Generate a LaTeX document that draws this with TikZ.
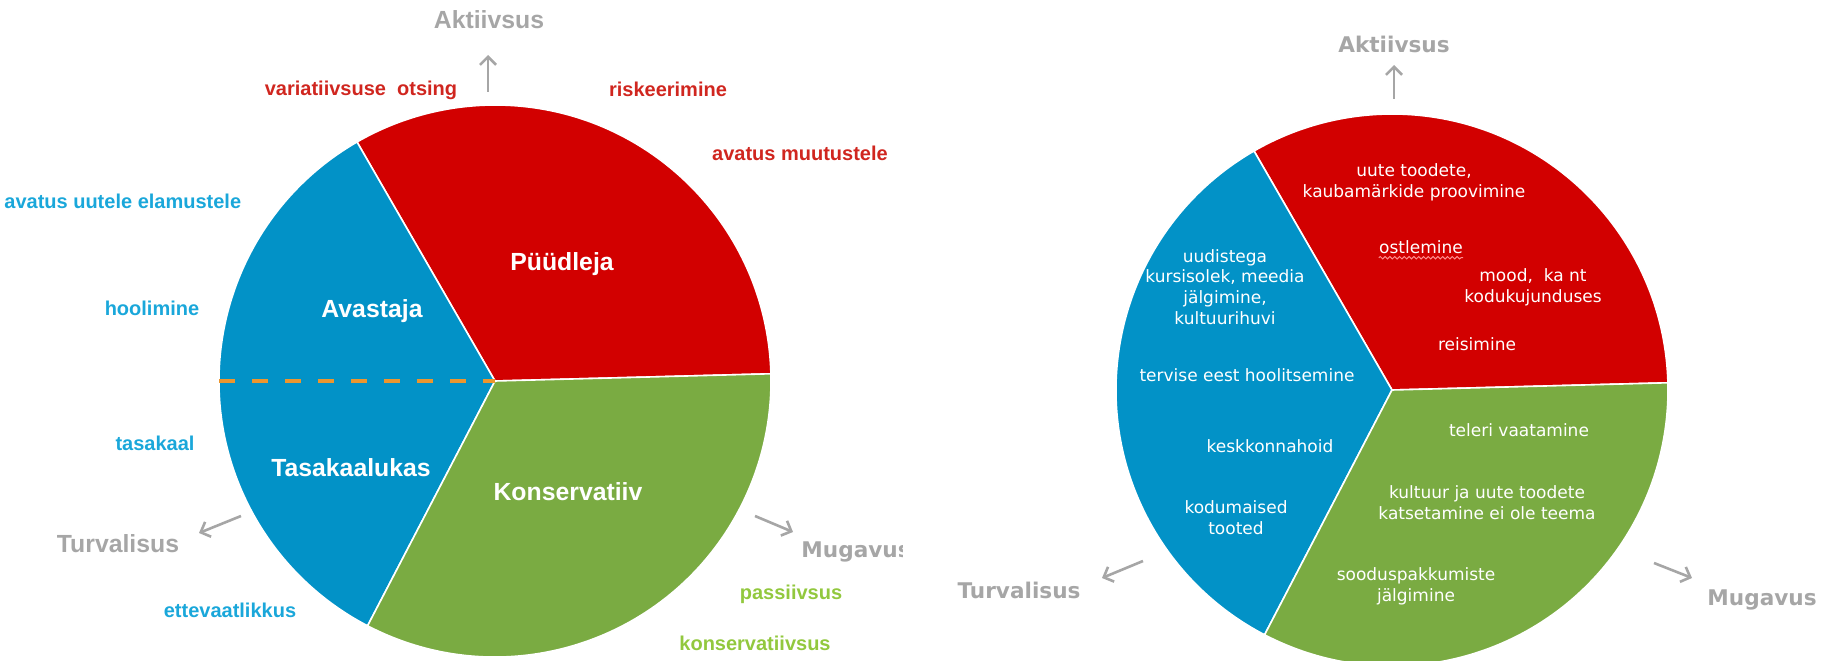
\documentclass[tikz,border=0pt]{standalone}
\usepackage{fontspec}
\setmainfont{Liberation Sans}
\newfontfamily\verd{DejaVu Sans}
\usetikzlibrary{arrows.meta,decorations.pathmorphing}

\definecolor{pred}{RGB}{210,0,0}
\definecolor{pblue}{RGB}{2,146,199}
\definecolor{pgreen}{RGB}{122,171,66}
\definecolor{tred}{RGB}{208,38,31}
\definecolor{tblue}{RGB}{26,167,218}
\definecolor{tgreen}{RGB}{146,200,62}
\definecolor{axgray}{RGB}{166,166,166}
\definecolor{dashorange}{RGB}{236,150,46}

\begin{document}
\begin{tikzpicture}[
		x=0.5pt, y=0.5pt,
		every node/.style={inner sep=0pt, align=center},
		segment/.style={draw=white, line width=0.8pt},
		type/.style={text=white, font=\bfseries\fontsize{12.4}{14}\selectfont},
		trait/.style={font=\bfseries\fontsize{10}{12}\selectfont},
		axis/.style={text=axgray, font=\bfseries\fontsize{12.4}{14}\selectfont},
		vaxis/.style={text=axgray, font=\verd\bfseries\fontsize{10.8}{13}\selectfont},
		habit/.style={text=white, font=\verd\fontsize{8.5}{10.4}\selectfont},
		axarrow/.style={draw=axgray, line width=1.3pt, -{Straight Barb[length=4pt,width=8pt]}},
		spell/.style={draw=red!45!white, line width=0.5pt, decorate,
			decoration={snake, amplitude=0.6pt, segment length=2.4pt}}
	]
  \useasboundingbox (0,0) rectangle (1829,660);
  \coordinate (c1) at (495,279);
  \coordinate (c2) at (1392,270);
  \foreach \c in {c1,c2} {
    \path[fill=pred, segment] (\c) -- ++(1.5:276) arc[start angle=1.5, end angle=120, radius=276] -- cycle;
    \path[fill=pblue, segment] (\c) -- ++(120:276) arc[start angle=120, end angle=242.5, radius=276] -- cycle;
    \path[fill=pgreen, segment] (\c) -- ++(242.5:276) arc[start angle=242.5, end angle=361.5, radius=276] -- cycle;
  }
  \coordinate (d0) at (219,279);
  \draw[dashorange, line width=2pt, dash pattern=on 8pt off 8.5pt] (d0) -- (c1);

  \node (pu) [type] at (562,396) {Püüdleja};
  \node (av) [type] at (372,349) {Avastaja};
  \node (ta) [type] at (351,192) {Tasakaalukas};
  \node (ko) [type] at (568,168) {Konservatiiv};

  \node (ak1) [axis] at (489,640) {Aktiivsus};
  \node (tu1) [axis] at (118,116) {Turvalisus};
  \begin{scope}
    \clip (0,0) rectangle (902,660);
    \node (mu1) [vaxis, anchor=west] at (801,108) {Mugavus};
  \end{scope}
  \coordinate (a1s) at (488,568);  \coordinate (a1e) at (488,605);
  \coordinate (t1s) at (241,144);  \coordinate (t1e) at (199,127);
  \coordinate (m1s) at (755,144);  \coordinate (m1e) at (793,128);
  \draw[axarrow] (a1s) -- (a1e);
  \draw[axarrow] (t1s) -- (t1e);
  \draw[axarrow] (m1s) -- (m1e);

  \node (r1) [trait, text=tred] at (361,570) {variatiivsuse\ \ otsing};
  \node (r2) [trait, text=tred] at (668,571) {riskeerimine};
  \node (r3) [trait, text=tred] at (800,507) {avatus muutustele};
  \node (b1) [trait, text=tblue, anchor=west] at (4,459) {avatus uutele elamustele};
  \node (b2) [trait, text=tblue] at (152,352) {hoolimine};
  \node (b3) [trait, text=tblue] at (155,217) {tasakaal};
  \node (b4) [trait, text=tblue] at (230,50) {ettevaatlikkus};
  \node (g1) [trait, text=tgreen] at (791,66) {passiivsus};
  \node (g2) [trait, text=tgreen] at (755,17) {konservatiivsus};

  \node (ak2) [vaxis] at (1394,616) {Aktiivsus};
  \node (tu2) [vaxis] at (1019,70) {Turvalisus};
  \node (mu2) [vaxis] at (1762,60) {Mugavus};
  \coordinate (a2s) at (1394,561);  \coordinate (a2e) at (1394,595);
  \coordinate (t2s) at (1143,99);   \coordinate (t2e) at (1102,82);
  \coordinate (m2s) at (1654,97);   \coordinate (m2e) at (1692,82);
  \draw[axarrow] (a2s) -- (a2e);
  \draw[axarrow] (t2s) -- (t2e);
  \draw[axarrow] (m2s) -- (m2e);

  \node (h1) [habit] at (1414,478) {uute toodete,\\kaubamärkide proovimine};
  \node (ost) [habit] at (1421,413) {ostlemine};
  \draw[spell] ([yshift=-2.2pt]ost.base west) -- ([yshift=-2.2pt]ost.base east);
  \node (h3) [habit] at (1533,373) {mood,\ \ ka nt\\kodukujunduses};
  \node (h4) [habit] at (1477,316) {reisimine};
  \node (h5) [habit] at (1225,373) {uudistega\\kursisolek, meedia\\jälgimine,\\kultuurihuvi};
  \node (h6) [habit] at (1247,285) {tervise eest hoolitsemine};
  \node (h7) [habit] at (1270,214) {keskkonnahoid};
  \node (h8) [habit] at (1236,142) {kodumaised\\tooted};
  \node (h9) [habit] at (1519,230) {teleri vaatamine};
  \node (h10) [habit] at (1487,157) {kultuur ja uute toodete\\katsetamine ei ole teema};
  \node (h11) [habit] at (1416,74) {sooduspakkumiste\\jälgimine};
\end{tikzpicture}
\end{document}
